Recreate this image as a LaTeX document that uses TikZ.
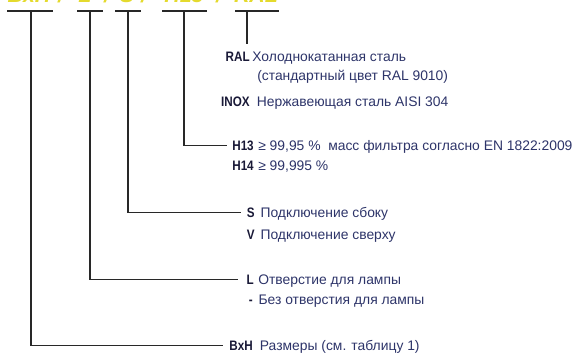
\documentclass[tikz,border=0pt]{standalone}
\usepackage{fontspec}
\setmainfont{Liberation Sans}
\newfontfamily\codefont[FakeStretch=0.85]{Liberation Sans}
\usetikzlibrary{positioning}
\definecolor{leadgray}{RGB}{40,40,40}
\definecolor{codenavy}{RGB}{25,25,55}
\definecolor{descblue}{RGB}{45,52,105}
\definecolor{titleyellow}{RGB}{228,218,45}
\tikzset{
  leader/.style={leadgray, line width=1.1pt},
  codelab/.style={font=\codefont\bfseries\fontsize{10.3}{12}\selectfont,
                  text=codenavy, inner sep=0pt, text height=7pt,
                  text depth=0pt, anchor=base east},
  desc/.style={font=\fontsize{10.4}{12}\selectfont, text=descblue,
               inner sep=0pt, anchor=base west},
  titletok/.style={font=\fontsize{16}{18}\selectfont\bfseries\itshape,
                   text=titleyellow, inner sep=0pt, anchor=base},
}

\begin{document}
\begin{tikzpicture}[x=0.75pt,y=-0.75pt]
  \useasboundingbox (0,0) rectangle (588,353);

  % Heading, cut off at the top edge.
  \node[titletok] (hBxH) at (29,3) {BxH};
  \node[titletok] (hs1) at (61,3) {/};
  \node[titletok] (hL) at (85,3) {L};
  \node[titletok] (hs2) at (107,3) {/};
  \node[titletok] (hS) at (127,3) {S};
  \node[titletok] (hs3) at (144,3) {/};
  \node[titletok] (hH) at (184,3) {H13};
  \node[titletok] (hs4) at (219,3) {/};
  \node[titletok] (hRAL) at (256,3) {RAL};

  % Bars under the heading.
  \foreach \name/\xc/\xl/\xr in {BxH/31/7/53, L/90/77/103, S/128/115/141,
                                 H/184/162/207, RAL/247/235/279}{
    \coordinate (b\name) at (\xc,11);
    \draw[leader] (\xl,11) -- (\xr,11);
  }

  % Codes and their meanings.
  \node[codelab] (codeRAL) at (250,62) {RAL};
  \node[desc, base right=1.5pt of codeRAL] (descRAL) {Холоднокатанная сталь};
  \node[desc] (noteRAL) at (257,80) {(стандартный цвет RAL 9010)};
  \node[codelab] (codeINOX) at (250,106) {INOX};
  \node[desc, base right=5pt of codeINOX] (descINOX) {Нержавеющая сталь AISI 304};

  \node[codelab] (codeH13) at (254,150) {H13};
  \node[desc, base right=3pt of codeH13] (descH13)
    {≥ 99,95 \%\ \ масс фильтра согласно EN 1822:2009};
  \node[codelab] (codeH14) at (254,170) {H14};
  \node[desc, base right=3pt of codeH14] (descH14) {≥ 99,995 \%};

  \node[codelab] (codeS) at (255,217) {S};
  \node[desc, base right=4pt of codeS] (descS) {Подключение сбоку};
  \node[codelab] (codeV) at (255,239) {V};
  \node[desc, base right=4pt of codeV] (descV) {Подключение сверху};

  \node[codelab] (codeL) at (254,284) {L};
  \node[desc, base right=3pt of codeL] (descL) {Отверстие для лампы};
  \node[codelab] (codeNo) at (253,304) {-};
  \node[desc, base right=4pt of codeNo] (descNo) {Без отверстия для лампы};

  \node[codelab] (codeBxH) at (253,350) {BxH};
  \node[desc, base right=5pt of codeBxH] (descBxH) {Размеры (см. таблицу 1)};

  % Leaders.
  \draw[leader, shorten >=6.5pt] (bRAL) -- (bRAL |- codeRAL.north);
  \draw[leader] (bH) |- ([xshift=-4pt]codeH13.west);
  \draw[leader] (bS) |- ([xshift=-4pt]codeS.west);
  \draw[leader] (bL) |- ([xshift=-6pt]codeL.west);
  \draw[leader] (bBxH) |- ([xshift=-4.5pt]codeBxH.west);
\end{tikzpicture}
\end{document}
